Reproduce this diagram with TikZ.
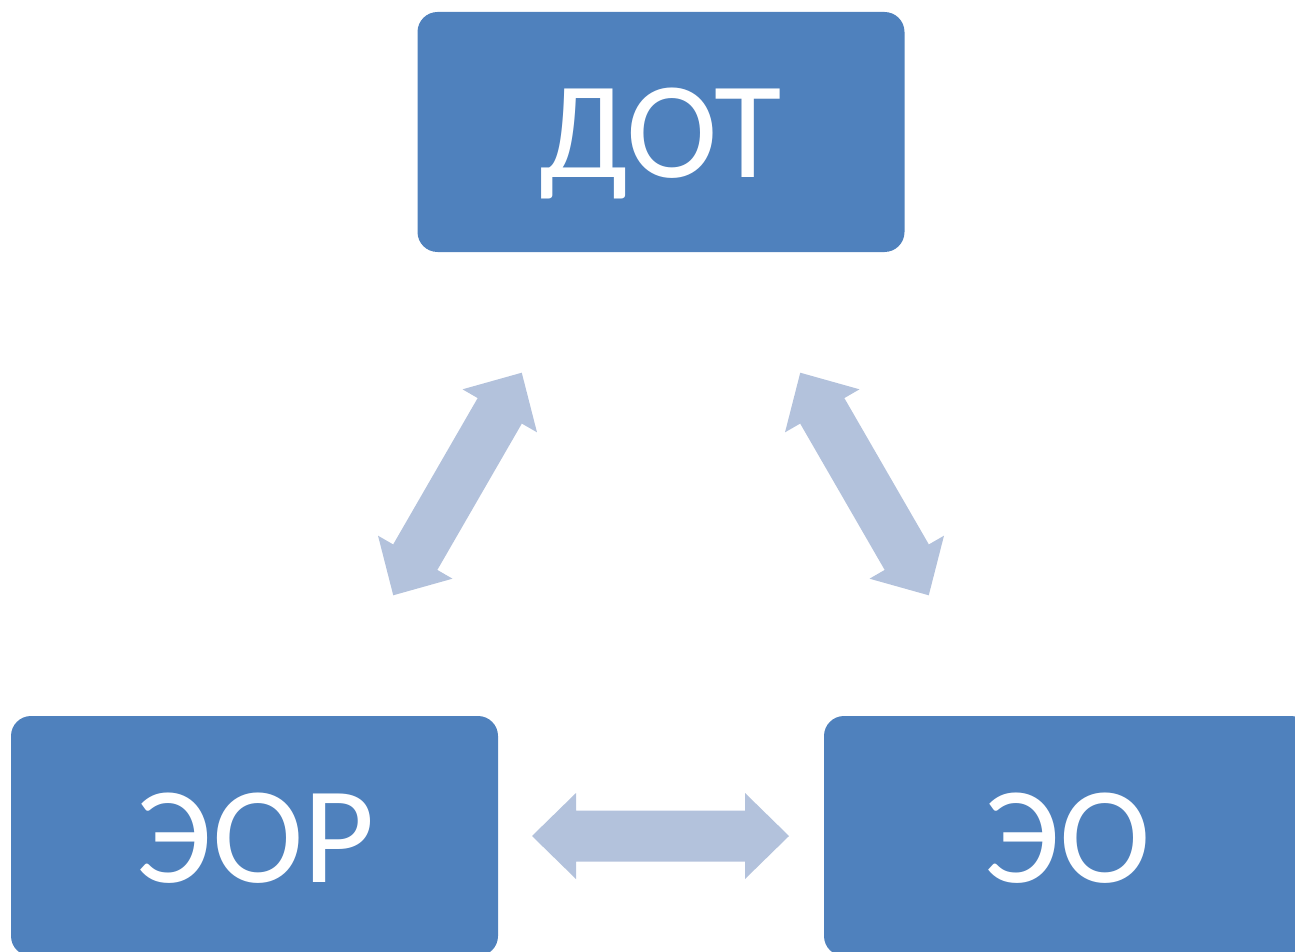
\documentclass[tikz,border=0pt]{standalone}
\usepackage{fontspec}
\setmainfont{Carlito}
\definecolor{boxblue}{HTML}{4F81BD}
\definecolor{arrowblue}{HTML}{B3C2DC}
\begin{document}
\begin{tikzpicture}[x=1pt,y=-1pt,
  box/.style={draw=none,fill=boxblue,rounded corners=20pt,minimum width=487pt,minimum height=240pt,inner sep=0pt,
    text height=92pt,text depth=0pt,text=white,font=\fontsize{138}{138}\selectfont},
  blockarrow/.style={fill=arrowblue,draw=none}]
\useasboundingbox (0,0) rectangle (1295,952);
\clip (0,0) rectangle (1295,952);
\node[box] (dot) at (661,132) {ДОТ};
\node[box] (eor) at (254.5,836) {\hspace*{3pt}ЭОР};
\node[box] (eo) at (1067.5,836) {ЭО};
% double block arrows
\foreach \cx/\cy/\ang in {660.5/836/0, 457.5/484/60, 864.5/484/-60}{
  \begin{scope}[shift={(\cx,\cy)},rotate=\ang]
    \fill[blockarrow] (-128.5,0) -- (-84.5,-43) -- (-84.5,-25.5) -- (84.5,-25.5) -- (84.5,-43)
      -- (128.5,0) -- (84.5,43) -- (84.5,25.5) -- (-84.5,25.5) -- (-84.5,43) -- cycle;
  \end{scope}
}
\end{tikzpicture}
\end{document}
